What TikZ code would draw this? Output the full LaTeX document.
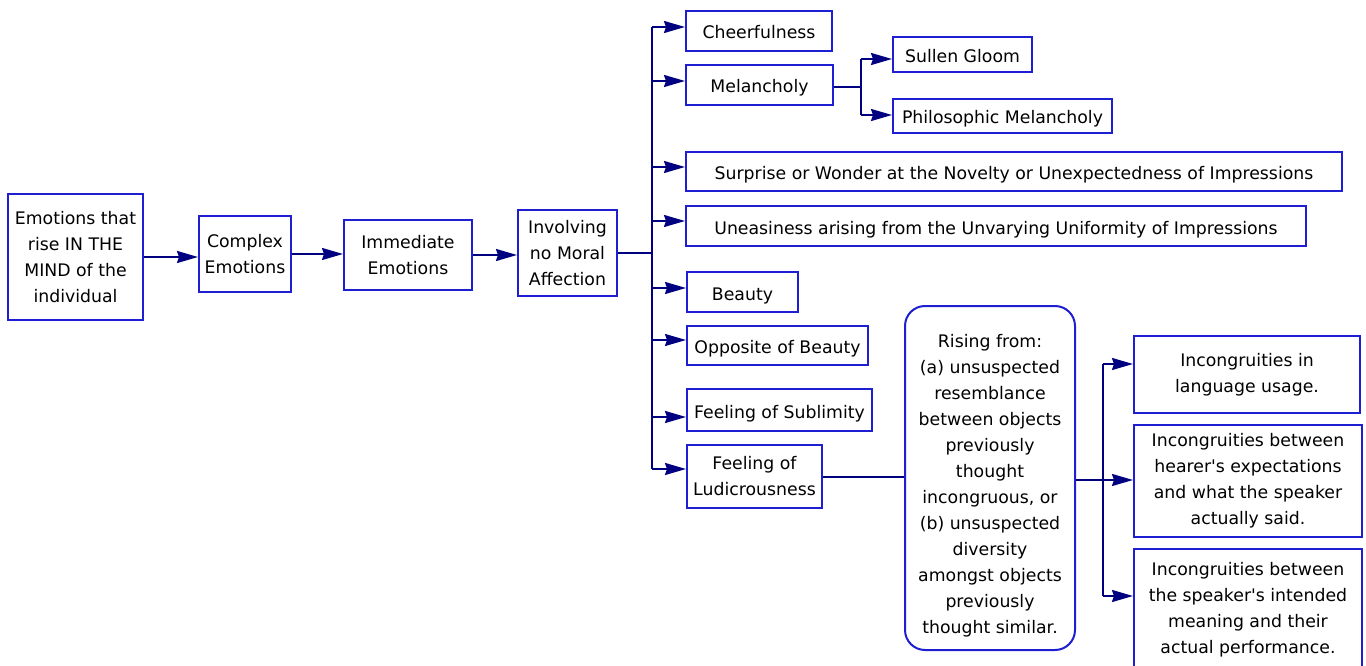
\documentclass[tikz,border=0pt]{standalone}
\usepackage{fontspec}
\setmainfont{DejaVu Sans}[Ligatures=TeXOff]
\usetikzlibrary{arrows.meta}
\definecolor{boxblue}{RGB}{30,30,210}
\definecolor{linknavy}{RGB}{0,0,128}
\tikzset{
  txt/.style={align=center, inner sep=0pt, font=\fontsize{17.3}{26}\selectfont},
  box/.style={txt, draw=boxblue, line width=2pt, fill=white},
  oneline/.style={text height=16pt, text depth=0pt},
  roundbox/.style={draw=boxblue, line width=2pt, fill=white, rounded corners=20pt},
  link/.style={draw=linknavy, line width=2pt},
  arr/.style={link, -{Stealth[length=21pt,width=12pt,inset=2pt]}},
}
\begin{document}
\begin{tikzpicture}[x=1pt,y=-1pt]
\useasboundingbox (0,0) rectangle (1366,666);

% main chain
\node[box, minimum width=135, minimum height=126] (root) at (75.5,257)
  {Emotions that\\rise IN THE\\MIND of the\\individual};
\node[box, minimum width=92, minimum height=76] (complex) at (245,254)
  {Complex\\Emotions};
\node[box, minimum width=128, minimum height=70] (immed) at (408,255)
  {Immediate\\Emotions};
\node[box, minimum width=99, minimum height=86] (invol) at (567.5,253)
  {Involving\\no Moral\\Affection};

% kinds of emotion
\node[box, oneline, minimum width=146, minimum height=40] (cheer) at (759,31) {Cheerfulness};
\node[box, oneline, minimum width=147, minimum height=40] (melan) at (759.5,85) {Melancholy};
\node[box, oneline, minimum width=139, minimum height=35] (sullen) at (962.5,54.5) {Sullen Gloom};
\node[box, oneline, minimum width=219, minimum height=34] (philo) at (1002.5,116) {Philosophic Melancholy};
\node[box, oneline, minimum width=656, minimum height=39] (surprise) at (1014,171.5)
  {Surprise or Wonder at the Novelty or Unexpectedness of Impressions};
\node[box, oneline, minimum width=620, minimum height=40] (uneasy) at (996,226)
  {Uneasiness arising from the Unvarying Uniformity of Impressions};
\node[box, oneline, minimum width=111, minimum height=40] (beauty) at (742.5,292) {Beauty};
\node[box, oneline, minimum width=181, minimum height=39] (opposite) at (777.5,345.5) {Opposite of Beauty};
\node[box, oneline, minimum width=185, minimum height=42] (sublim) at (779.5,410) {Feeling of Sublimity};
\node[box, minimum width=135, minimum height=63] (ludic) at (754.5,476.5)
  {Feeling of\\Ludicrousness};

% sources of the ludicrous: rounded frame with its text set a little low
\node[roundbox, minimum width=170, minimum height=344] (rising) at (990,478) {};
\node[txt] (risingtext) at (990,486)
  {Rising from:\\(a) unsuspected\\resemblance\\between objects\\previously\\thought\\incongruous, or\\(b) unsuspected\\diversity\\amongst objects\\previously\\thought similar.};
\node[box, minimum width=226, minimum height=77] (inc1) at (1247,374.5)
  {Incongruities in\\language usage.};
\node[box, minimum width=228, minimum height=112] (inc2) at (1248,481)
  {Incongruities between\\hearer's expectations\\and what the speaker\\actually said.};
\node[box, minimum width=228, minimum height=122] (inc3) at (1248,610)
  {Incongruities between\\the speaker's intended\\meaning and their\\actual performance.};

% main chain connectors
\draw[arr] (root.east) -- (root.east -| complex.west);
\draw[arr] (complex.east) -- (complex.east -| immed.west);
\draw[arr] (immed.east) -- (immed.east -| invol.west);

% trunk to the kinds of emotion
\coordinate (tk) at (652,253);
\coordinate (cheerIn) at ([yshift=4pt]cheer.west);
\coordinate (melanIn) at ([yshift=4pt]melan.west);
\coordinate (surpriseIn) at ([yshift=4.5pt]surprise.west);
\coordinate (uneasyIn) at ([yshift=5pt]uneasy.west);
\coordinate (beautyIn) at ([yshift=4pt]beauty.west);
\coordinate (oppositeIn) at ([yshift=5.5pt]opposite.west);
\coordinate (sublimIn) at ([yshift=-7pt]sublim.west);
\coordinate (ludicIn) at ([yshift=7.5pt]ludic.west);
\draw[link] (invol.east) -- (tk);
\draw[link] (tk |- cheerIn) -- (tk |- ludicIn);
\foreach \n in {cheerIn,melanIn,surpriseIn,uneasyIn,beautyIn,oppositeIn,sublimIn,ludicIn}
  \draw[arr] (tk |- \n) -- (\n);

% melancholy fork
\coordinate (melanOut) at ([yshift=-2pt]melan.east);
\coordinate (mf) at (861,87);
\coordinate (sullenIn) at ([yshift=-4.5pt]sullen.west);
\coordinate (philoIn) at ([yshift=1pt]philo.west);
\draw[link] (melanOut) -- (mf);
\draw[link] (mf |- sullenIn) -- (mf |- philoIn);
\draw[arr] (mf |- sullenIn) -- (sullenIn);
\draw[arr] (mf |- philoIn) -- (philoIn);

% ludicrous fork
\draw[link] (ludic.east) -- (ludic.east -| rising.west);
\coordinate (rf) at (1103,480);
\coordinate (inc1In) at ([yshift=10.5pt]inc1.west);
\coordinate (inc2In) at ([yshift=1pt]inc2.west);
\coordinate (inc3In) at ([yshift=14pt]inc3.west);
\draw[link] ([yshift=-2pt]rising.east) -- (rf);
\draw[link] (rf |- inc1In) -- (rf |- inc3In);
\draw[arr] (rf |- inc1In) -- (inc1In);
\draw[arr] (rf |- inc2In) -- (inc2In);
\draw[arr] (rf |- inc3In) -- (inc3In);
\end{tikzpicture}
\end{document}
